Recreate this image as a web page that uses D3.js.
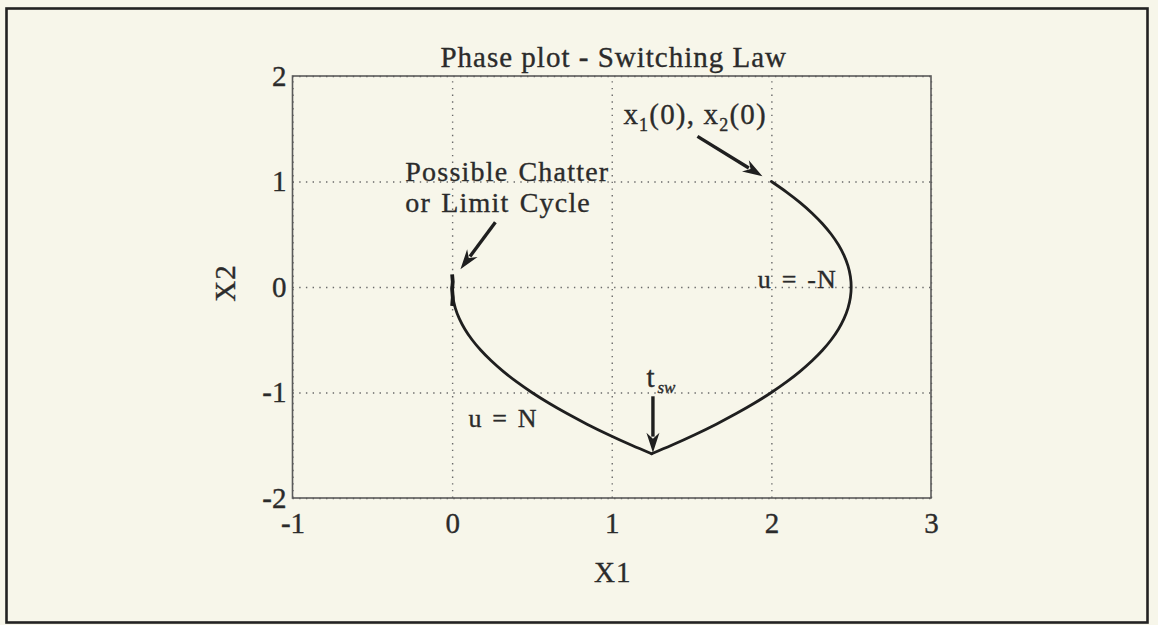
<!DOCTYPE html>
<html>
<head>
<meta charset="utf-8">
<script src="https://cdn.jsdelivr.net/npm/d3@7"></script>
<style>
  html, body { margin: 0; padding: 0; background: #f7f6ea; }
  svg { display: block; }
  text { font-family: "Liberation Serif", "Times New Roman", serif; fill: #2b2b2b; stroke: #2b2b2b; stroke-width: 0.35px; }
</style>
</head>
<body>
<svg id="chart" width="1158" height="625"></svg>
<script>
// Axis ticks
const xTicks = [-1, 0, 1, 2, 3];
const yTicks = [-2, -1, 0, 1, 2];

// Trajectory under u = -N, starting from x1(0)=2, x2(0)=1 down to the switch
const uNegX2 = [1.0, 0.9, 0.8, 0.7, 0.6, 0.5, 0.4, 0.3, 0.2, 0.1, 0.0, -0.1, -0.2, -0.3, -0.4, -0.5, -0.6, -0.7, -0.8, -0.9, -1.0, -1.1, -1.2, -1.3, -1.4, -1.5, -1.58];
const uNegX1 = [2.0, 2.095, 2.18, 2.255, 2.32, 2.375, 2.42, 2.455, 2.48, 2.495, 2.5, 2.495, 2.48, 2.455, 2.42, 2.375, 2.32, 2.255, 2.18, 2.095, 2.0, 1.895, 1.78, 1.655, 1.52, 1.375, 1.25];

// Trajectory under u = N, from the switch back to the origin
const uPosX2 = [-1.58, -1.5, -1.4, -1.3, -1.2, -1.1, -1.0, -0.9, -0.8, -0.7, -0.6, -0.5, -0.4, -0.3, -0.2, -0.1, 0.0];
const uPosX1 = [1.25, 1.125, 0.98, 0.845, 0.72, 0.605, 0.5, 0.405, 0.32, 0.245, 0.18, 0.125, 0.08, 0.045, 0.02, 0.005, 0.0];

// Chatter near the origin
const chatterX1 = [0.0, 0.004, 0.0, 0.004, 0.0];
const chatterX2 = [0.12, 0.05, -0.02, -0.1, -0.18];

const svg = d3.select("#chart");
const W = 1158, H = 625;
const margin = { left: 292.5, top: 76, right: W - 931, bottom: H - 498 };
const iw = W - margin.left - margin.right;
const ih = H - margin.top - margin.bottom;

// Page frame
svg.append("rect")
  .attr("x", 6.5).attr("y", 8.5).attr("width", 1141).attr("height", 614)
  .attr("fill", "#f7f6ea").attr("stroke", "#222").attr("stroke-width", 2.6);

const g = svg.append("g").attr("transform", `translate(${margin.left},${margin.top})`);

const x = d3.scaleLinear().domain([-1, 3]).range([0, iw]);
const y = d3.scaleLinear().domain([-2, 2]).range([ih, 0]);

// Axes with dotted grid lines
const xa = g.append("g").attr("transform", `translate(0,${ih})`)
  .call(d3.axisBottom(x).tickValues(xTicks).tickSize(-ih).tickPadding(14));
const ya = g.append("g")
  .call(d3.axisLeft(y).tickValues(yTicks).tickSize(-iw).tickPadding(6));

[xa, ya].forEach(a => {
  a.select(".domain").remove();
  a.selectAll(".tick line")
    .attr("stroke", "#6a6a6a").attr("stroke-width", 1.4)
    .attr("stroke-dasharray", "1.4,5.3");
  a.selectAll(".tick text")
    .attr("font-size", 29)
    .text(d => d < 0 ? "-" + Math.abs(d) : String(d));
});

// Plot box
g.append("rect").attr("x", 0).attr("y", 0).attr("width", iw).attr("height", ih)
  .attr("fill", "none").attr("stroke", "#5a5a5a").attr("stroke-width", 1.6);

// Trajectory
const curve = d3.line().x(d => x(d[0])).y(d => y(d[1])).curve(d3.curveCatmullRom);
const negPts = uNegX1.map((v, i) => [v, uNegX2[i]]);
const posPts = uPosX1.map((v, i) => [v, uPosX2[i]]);
const chatPts = chatterX1.map((v, i) => [v, chatterX2[i]]);

[negPts, posPts].forEach(pts => {
  g.append("path").datum(pts).attr("d", curve)
    .attr("fill", "none").attr("stroke", "#1f1f1f").attr("stroke-width", 2.8)
    .attr("stroke-linejoin", "round").attr("stroke-linecap", "round");
});
g.append("path").datum(chatPts).attr("d", d3.line().x(d => x(d[0])).y(d => y(d[1])))
  .attr("fill", "none").attr("stroke", "#1a1a1a").attr("stroke-width", 3.8);

// Arrows (data coordinates: tail, tip)
const arrows = [
  [[0.271, 0.613], [0.052, 0.168]],
  [[1.537, 1.428], [1.944, 1.049]],
  [[1.258, -1.036], [1.258, -1.57]]
];
arrows.forEach(([a, b]) => {
  const x0 = x(a[0]), y0 = y(a[1]), x1 = x(b[0]), y1 = y(b[1]);
  const ang = Math.atan2(y1 - y0, x1 - x0);
  const L = 20, Wd = 6.5;
  const bx = x1 - L * Math.cos(ang), by = y1 - L * Math.sin(ang);
  g.append("line").attr("x1", x0).attr("y1", y0).attr("x2", bx + 4 * Math.cos(ang)).attr("y2", by + 4 * Math.sin(ang))
    .attr("stroke", "#1f1f1f").attr("stroke-width", 3.4);
  const px = -Math.sin(ang) * Wd, py = Math.cos(ang) * Wd;
  g.append("path")
    .attr("d", `M${x1},${y1}L${bx + px},${by + py}L${bx + 0.3 * L * Math.cos(ang)},${by + 0.3 * L * Math.sin(ang)}L${bx - px},${by - py}Z`)
    .attr("fill", "#1f1f1f");
});

// Title and axis labels
g.append("text").attr("x", iw / 2 + 2).attr("y", -9).attr("text-anchor", "middle")
  .attr("font-size", 29).attr("letter-spacing", 1).text("Phase plot - Switching Law");
g.append("text").attr("x", iw / 2 + 1).attr("y", 582 - margin.top).attr("text-anchor", "middle")
  .attr("font-size", 29).attr("letter-spacing", 1).text("X1");
g.append("text").attr("transform", `translate(${235 - margin.left},${283 - margin.top}) rotate(-90)`)
  .attr("text-anchor", "middle").attr("font-size", 29).attr("letter-spacing", 1).text("X2");

// Annotations
function note(xv, yv, str, size) {
  return g.append("text").attr("x", x(xv)).attr("y", y(yv))
    .attr("font-size", size).attr("letter-spacing", 1.2).attr("word-spacing", 2).text(str);
}
note(-0.293, 1.002, "Possible Chatter", 28);
note(-0.293, 0.708, "or Limit Cycle", 28);
note(1.915, -0.012, "u = -N", 26).attr("word-spacing", 2);
note(0.102, -1.330, "u = N", 26).attr("word-spacing", 2);

const x0t = g.append("text").attr("x", x(1.073)).attr("y", y(1.542))
  .attr("font-size", 29).attr("letter-spacing", 1.2);
x0t.append("tspan").text("x");
x0t.append("tspan").attr("font-size", 18).attr("dy", 7).text("1");
x0t.append("tspan").attr("dy", -7).text("(0), x");
x0t.append("tspan").attr("font-size", 18).attr("dy", 7).text("2");
x0t.append("tspan").attr("dy", -7).text("(0)");

const tsw = g.append("text").attr("x", x(1.217)).attr("y", y(-0.951)).attr("font-size", 29);
tsw.append("tspan").text("t");
tsw.append("tspan").attr("font-size", 17).attr("font-style", "italic").attr("dx", 3).attr("dy", 6).text("sw");
</script>
</body>
</html>
